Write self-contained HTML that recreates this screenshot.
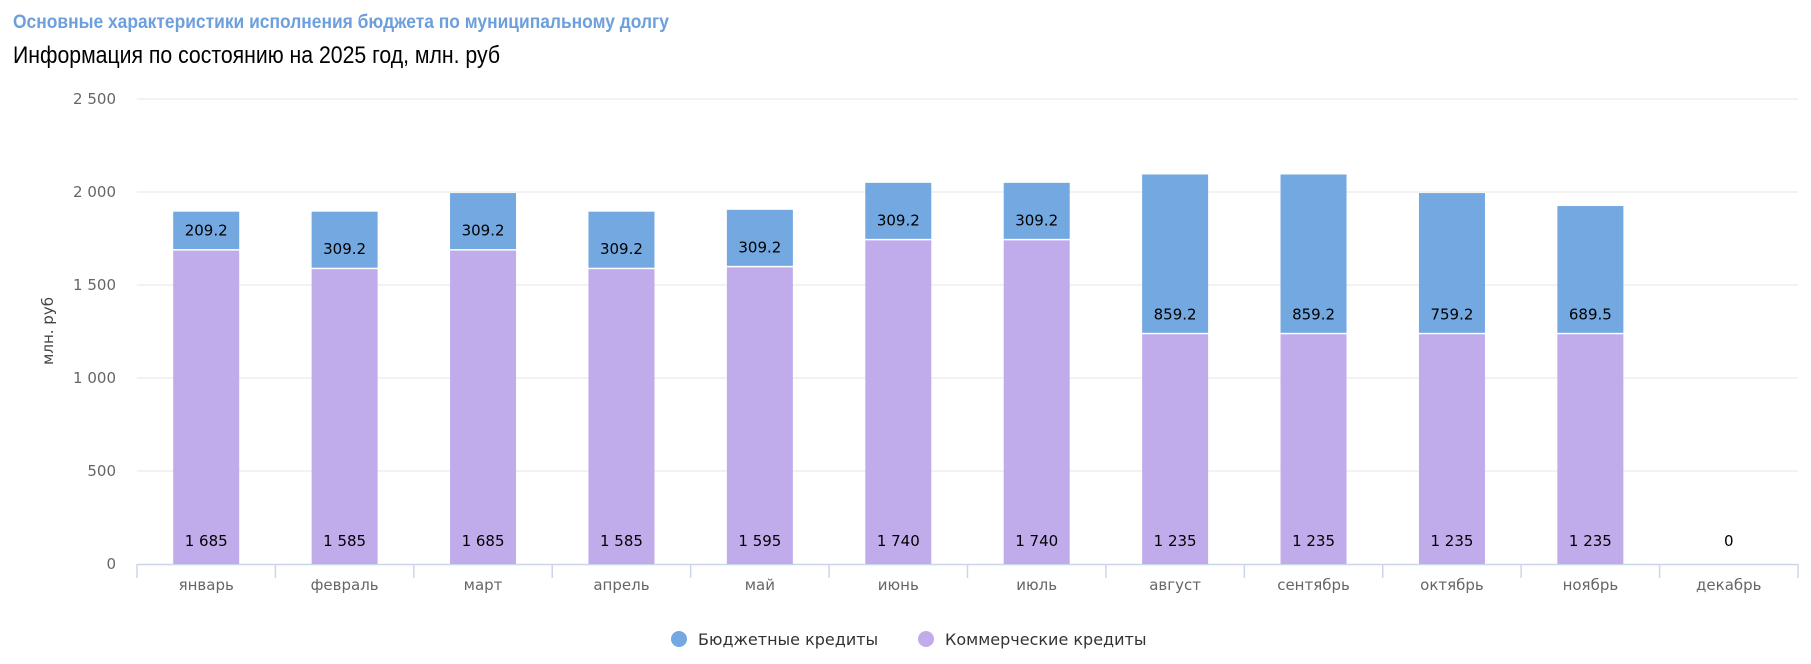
<!DOCTYPE html>
<html><head><meta charset="utf-8"><style>
body{margin:0;background:#fff;width:1811px;height:659px;overflow:hidden}
svg text{font-family:"DejaVu Sans",sans-serif}
</style></head><body>
<svg width="1811" height="659">
<text x="13" y="28" textLength="656" lengthAdjust="spacingAndGlyphs" style="font-family:'Liberation Sans Narrow','Liberation Sans',sans-serif" font-size="19" font-weight="bold" fill="#6c9fdc">Основные характеристики исполнения бюджета по муниципальному долгу</text>
<text x="13" y="63" textLength="487" lengthAdjust="spacingAndGlyphs" style="font-family:'Liberation Sans Narrow','Liberation Sans',sans-serif" font-size="24" fill="#000">Информация по состоянию на 2025 год, млн. руб</text>
<g id="grid"></g><g id="bars"></g><g id="labels"></g>
<text transform="translate(53,331) rotate(-90)" text-anchor="middle" font-size="15" fill="#444">млн. руб</text>
<g>
<circle cx="679" cy="639" r="8" fill="#73a8e0"/>
<text x="698" y="645" font-size="16" fill="#333">Бюджетные кредиты</text>
<circle cx="926" cy="639" r="8" fill="#c0aceb"/>
<text x="945" y="645" font-size="16" fill="#333">Коммерческие кредиты</text>
</g>
</svg>
<script>
const categories=["январь","февраль","март","апрель","май","июнь","июль","август","сентябрь","октябрь","ноябрь","декабрь"];
const commercial=[1685,1585,1685,1585,1595,1740,1740,1235,1235,1235,1235,0];
const budget=[209.2,309.2,309.2,309.2,309.2,309.2,309.2,859.2,859.2,759.2,689.5,0];
const yTicks=[0,500,1000,1500,2000,2500];
const NS="http://www.w3.org/2000/svg";
const L=137,R=1798,T=99,B=564,MAX=2500;
const cw=(R-L)/categories.length,bw=66;
const y=v=>B-(v/MAX)*(B-T);
const x=i=>L+cw*i+cw/2;
function mk(tag,a,p){const e=document.createElementNS(NS,tag);for(const k in a)e.setAttribute(k,a[k]);p.appendChild(e);return e;}
const g=document.getElementById('grid'),gb=document.getElementById('bars'),gl=document.getElementById('labels');
const fmt=v=>{if(v===0)return"0";if(v%1!==0)return v.toFixed(1);return String(v).replace(/\B(?=(\d{3})+(?!\d))/g," ");};
yTicks.forEach(t=>{
 if(t>0){const l=mk('line',{x1:L,x2:R,y1:y(t),y2:y(t),stroke:'#e6e6e6','stroke-width':1},g);
 
 }
 const tx=mk('text',{x:116,y:y(t)+5,'text-anchor':'end','font-size':15,fill:'#666'},g);tx.textContent=fmt(t);
 
 
});
const ax=mk('line',{x1:L,x2:R,y1:B+0.5,y2:B+0.5,stroke:'#ccd6eb','stroke-width':1.5},g);


for(let i=0;i<=categories.length;i++){const tk=mk('line',{x1:L+cw*i,x2:L+cw*i,y1:B,y2:B+14,stroke:'#ccd6eb','stroke-width':1.5},g);
 
 }
categories.forEach((c,i)=>{
 const tx=mk('text',{x:x(i),y:590,'text-anchor':'middle','font-size':15,fill:'#666'},g);tx.textContent=c;
 
 
 const cv=commercial[i],bv=budget[i];
 if(cv>0){const r=mk('rect',{x:x(i)-bw/2,y:y(cv),width:bw,height:B-y(cv),fill:'#c0aceb'},gb);
  
  }
 if(bv>0){const r=mk('rect',{x:x(i)-bw/2,y:y(cv+bv),width:bw,height:y(cv)-y(cv+bv)-1.5,fill:'#73a8e0'},gb);
  
  
  const bl=mk('text',{x:x(i),y:y(cv)-15,'text-anchor':'middle','font-size':15,fill:'#000'},gl);bl.textContent=fmt(bv);
  
  }
 const cl=mk('text',{x:x(i),y:546,'text-anchor':'middle','font-size':15,fill:'#000'},gl);cl.textContent=fmt(cv);
 
 
});
</script>
</body></html>
